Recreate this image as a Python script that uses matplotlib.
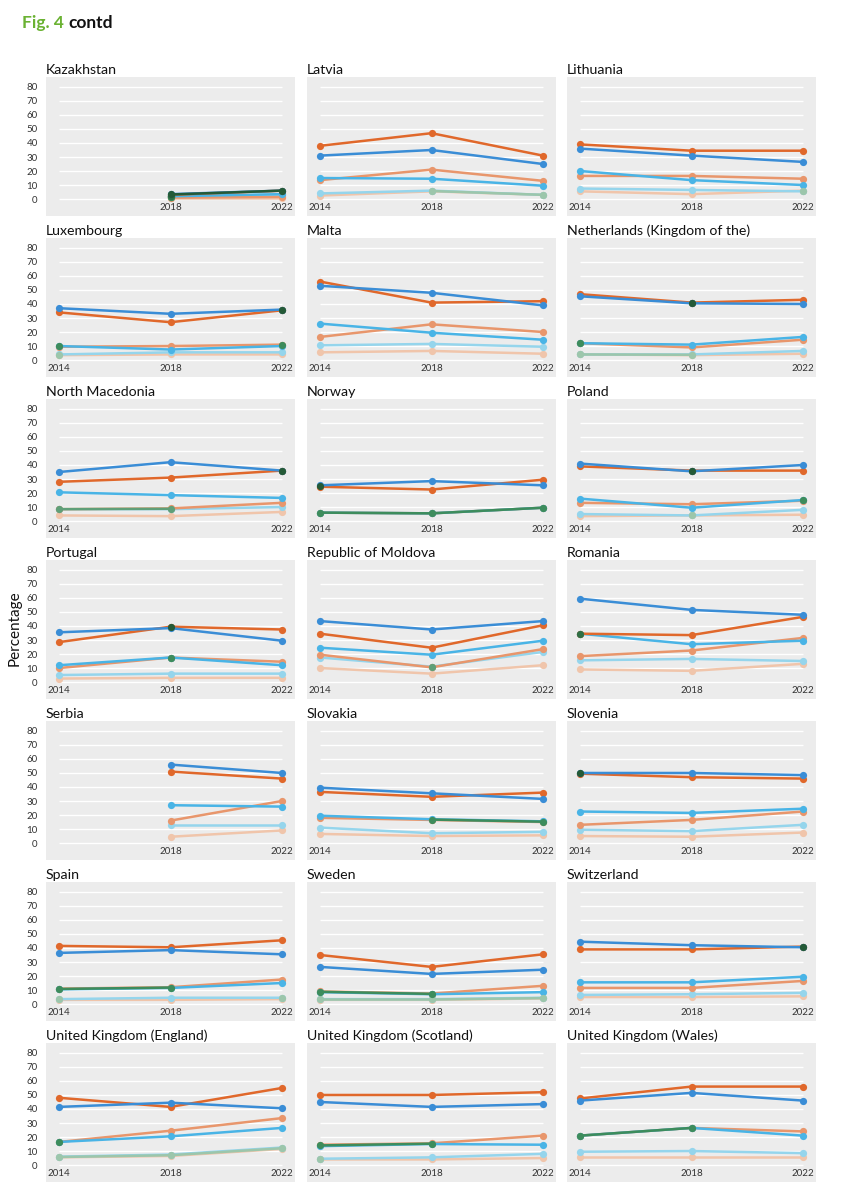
import numpy as np
import matplotlib
matplotlib.use("Agg")
import matplotlib.pyplot as plt

nan = np.nan
years = [2014, 2018, 2022]

countries = [
    "Kazakhstan", "Latvia", "Lithuania",
    "Luxembourg", "Malta", "Netherlands (Kingdom of the)",
    "North Macedonia", "Norway", "Poland",
    "Portugal", "Republic of Moldova", "Romania",
    "Serbia", "Slovakia", "Slovenia",
    "Spain", "Sweden", "Switzerland",
    "United Kingdom (England)", "United Kingdom (Scotland)", "United Kingdom (Wales)",
]

# one dict per series, values for 2014, 2018, 2022
orange_dark = {
    "Kazakhstan": [nan, 3, 6], "Latvia": [38, 47, 31], "Lithuania": [39, 34.5, 34.5],
    "Luxembourg": [34, 27, 35.5], "Malta": [56, 41, 42], "Netherlands (Kingdom of the)": [47, 41, 43],
    "North Macedonia": [28, 31, 36], "Norway": [24.5, 22.5, 29.5], "Poland": [39, 36, 36],
    "Portugal": [28.5, 39.5, 37.5], "Republic of Moldova": [34.5, 24.5, 40.5], "Romania": [34.5, 33.5, 46.5],
    "Serbia": [nan, 51, 46], "Slovakia": [36.5, 33, 36], "Slovenia": [49.5, 47, 46],
    "Spain": [41.5, 40.5, 45.5], "Sweden": [35, 26.5, 35.5], "Switzerland": [39, 39, 41],
    "United Kingdom (England)": [48, 41.5, 55], "United Kingdom (Scotland)": [50, 50, 52],
    "United Kingdom (Wales)": [47.5, 56, 56],
}
blue_dark = {
    "Kazakhstan": [nan, 3.5, 6], "Latvia": [31, 35, 25], "Lithuania": [36, 31, 26.5],
    "Luxembourg": [37, 33, 36], "Malta": [53, 48, 39], "Netherlands (Kingdom of the)": [45.5, 40.5, 40],
    "North Macedonia": [35, 42, 36], "Norway": [25.5, 28.5, 25.5], "Poland": [41, 35.5, 40],
    "Portugal": [35.5, 38.5, 29.5], "Republic of Moldova": [43.5, 37.5, 43.5], "Romania": [59.5, 51.5, 48],
    "Serbia": [nan, 56, 50], "Slovakia": [39.5, 35.5, 31.5], "Slovenia": [50, 50, 48.5],
    "Spain": [36.5, 38.5, 35.5], "Sweden": [26.5, 21.5, 24.5], "Switzerland": [44.5, 42, 40.5],
    "United Kingdom (England)": [41.5, 44.5, 40.5], "United Kingdom (Scotland)": [45, 41.5, 43.5],
    "United Kingdom (Wales)": [46, 51.5, 46],
}
orange_mid = {
    "Kazakhstan": [nan, 1, 1.5], "Latvia": [13.5, 21, 13], "Lithuania": [16.5, 16.5, 14.5],
    "Luxembourg": [9.5, 10, 11], "Malta": [16.5, 25.5, 20], "Netherlands (Kingdom of the)": [12, 9, 14.5],
    "North Macedonia": [8.5, 9, 13], "Norway": [6, 5.5, 9.5], "Poland": [13, 12, 14.5],
    "Portugal": [10, 17.5, 14.5], "Republic of Moldova": [19.5, 10.5, 23.5], "Romania": [18.5, 22.5, 31.5],
    "Serbia": [nan, 16, 30], "Slovakia": [18, 16.5, 15], "Slovenia": [13, 16.5, 22.5],
    "Spain": [11, 12, 17.5], "Sweden": [9, 7.5, 13], "Switzerland": [11.5, 11.5, 16.5],
    "United Kingdom (England)": [16.5, 24.5, 33.5], "United Kingdom (Scotland)": [14.5, 15.5, 21],
    "United Kingdom (Wales)": [21, 26.5, 24],
}
blue_mid = {
    "Kazakhstan": [nan, 2, 3.5], "Latvia": [15, 14.5, 9.5], "Lithuania": [20, 13.5, 10],
    "Luxembourg": [10, 7.5, 10], "Malta": [26, 19.5, 14.5], "Netherlands (Kingdom of the)": [12, 11, 16.5],
    "North Macedonia": [20.5, 18.5, 16.5], "Norway": [6, 5.5, 9.5], "Poland": [16, 9.5, 15],
    "Portugal": [12, 17.5, 12], "Republic of Moldova": [24.5, 19.5, 29.5], "Romania": [34.5, 27, 29.5],
    "Serbia": [nan, 27, 26], "Slovakia": [19.5, 17, 15.5], "Slovenia": [22.5, 21.5, 24.5],
    "Spain": [10.5, 11.5, 15], "Sweden": [8.5, 7, 8.5], "Switzerland": [15.5, 15.5, 19.5],
    "United Kingdom (England)": [16.5, 20.5, 26.5], "United Kingdom (Scotland)": [13.5, 15, 14.5],
    "United Kingdom (Wales)": [21, 26.5, 21],
}
peach = {
    "Kazakhstan": [nan, 1, 1], "Latvia": [2.5, 5.5, 3], "Lithuania": [5.5, 3.5, 6],
    "Luxembourg": [3.5, 4, 4], "Malta": [5.5, 6.5, 4.5], "Netherlands (Kingdom of the)": [4, 3.5, 4.5],
    "North Macedonia": [4, 3.5, 6.5], "Norway": [nan, nan, nan], "Poland": [3.5, 4, 4.5],
    "Portugal": [2.5, 3, 3], "Republic of Moldova": [10, 6, 12], "Romania": [9, 8, 13],
    "Serbia": [nan, 4.5, 9], "Slovakia": [6.5, 5, 5.5], "Slovenia": [5, 4.5, 7.5],
    "Spain": [3, 3, 3.5], "Sweden": [3, 3, 4], "Switzerland": [5, 5, 5.5],
    "United Kingdom (England)": [5.5, 6.5, 11.5], "United Kingdom (Scotland)": [4, 4, 5],
    "United Kingdom (Wales)": [5.5, 5.5, 5.5],
}
cyan_pale = {
    "Kazakhstan": [nan, 2, 3], "Latvia": [4, 6, 3], "Lithuania": [7.5, 6.5, 5.5],
    "Luxembourg": [4, 5.5, 5.5], "Malta": [10.5, 11.5, 9.5], "Netherlands (Kingdom of the)": [4, 4, 6.5],
    "North Macedonia": [8.5, 8.5, 10], "Norway": [nan, nan, nan], "Poland": [5, 4, 8],
    "Portugal": [5, 6, 6], "Republic of Moldova": [17.5, 11, 21.5], "Romania": [15.5, 16.5, 15],
    "Serbia": [nan, 13, 13], "Slovakia": [11, 7, 8], "Slovenia": [9.5, 8.5, 13],
    "Spain": [3.5, 4.5, 4.5], "Sweden": [3.5, 3.5, 4.5], "Switzerland": [6.5, 7, 8],
    "United Kingdom (England)": [6, 7.5, 12.5], "United Kingdom (Scotland)": [4.5, 5.5, 8],
    "United Kingdom (Wales)": [9.5, 10, 8.5],
}

tick_override = {"North Macedonia": [2014, 2022]}

# (data, colour, family, depth) ; family "o" = orange tones, "b" = blue tones
series = [
    (peach, "#f0c5ab", "o", 0),
    (cyan_pale, "#95d5ec", "b", 0),
    (orange_mid, "#e8966c", "o", 1),
    (blue_mid, "#49b4e6", "b", 1),
    (orange_dark, "#e0682b", "o", 2),
    (blue_dark, "#3a8dd6", "b", 2),
]

# the source chart multiplies overlapping orange and blue lines, which shows as green
overlap_colours = {0: "#9cc6ab", 1: "#5f9f78", 2: "#3d8c5c", 3: "#2f6f45", 4: "#245a37"}

plt.rcParams["font.family"] = ["Lato", "DejaVu Sans"]

W, H = 843, 1200
fig = plt.figure(figsize=(W / 100, H / 100), dpi=100)

col_x = [46, 307, 567]
row_y = [77, 238, 399, 560, 721, 882, 1043]
pw, ph = 249, 139

t1 = fig.text(22 / W, 1 - 28 / H, "Fig. 4 ", color="#6ab232", fontsize=12.5, fontweight="bold")
renderer = fig.canvas.get_renderer()
bb = t1.get_window_extent(renderer)
fig.text(bb.x1 / W, 1 - 28 / H, "contd", color="#111111", fontsize=12.5, fontweight="bold")

LW, MS = 1.8, 5.2

for i, name in enumerate(countries):
    r, c = divmod(i, 3)
    ax = fig.add_axes([col_x[c] / W, 1 - (row_y[r] + ph) / H, pw / W, ph / H])
    ax.set_facecolor("#ececec")
    for s in ax.spines.values():
        s.set_visible(False)
    ax.set_xlim(2013.53, 2022.47)
    ax.set_ylim(-12.1, 87.1)
    ax.hlines(np.arange(0, 90, 10), 2014, 2022, color="white", lw=1, zorder=0.5)

    for data, col, fam, dep in series:
        v = np.array(data[name], dtype=float)
        ax.plot(years, v, color=col, lw=LW, marker="o", ms=MS, mec="none",
                solid_capstyle="round", zorder=2)

    # overlay where an orange and a blue series sit on top of each other
    for d1, c1, f1, dep1 in series:
        if f1 != "o":
            continue
        for d2, c2, f2, dep2 in series:
            if f2 != "b":
                continue
            a = np.array(d1[name], dtype=float)
            b = np.array(d2[name], dtype=float)
            oc = overlap_colours[dep1 + dep2]
            close = np.abs(a - b) < 1.4
            for k in range(len(years) - 1):
                if close[k] and close[k + 1]:
                    ax.plot(years[k:k + 2], (a[k:k + 2] + b[k:k + 2]) / 2, color=oc,
                            lw=LW, solid_capstyle="round", zorder=3)
            for k in range(len(years)):
                if close[k]:
                    ax.plot(years[k], (a[k] + b[k]) / 2, "o", color=oc, ms=MS,
                            mec="none", zorder=3)

    present = [y for k, y in enumerate(years)
               if any(np.isfinite(d[name][k]) for d, _, _, _ in series)]
    ticks = tick_override.get(name, present)
    ax.set_xticks(ticks)
    ax.set_xticklabels([str(t) for t in ticks])
    ax.tick_params(axis="x", length=0, pad=-9.5, labelsize=7, colors="#333333")
    ax.set_yticks(np.arange(0, 90, 10))
    if c == 0:
        ax.tick_params(axis="y", length=0, pad=6, labelsize=7, colors="#333333")
    else:
        ax.tick_params(axis="y", length=0, labelleft=False)
    ax.set_title(name, loc="left", fontsize=10.2, pad=2, color="#111111")

fig.text(15 / W, 1 - 628 / H, "Percentage", rotation=90, ha="center", va="center",
         fontsize=11, color="#111111")

fig.savefig("out.png", dpi=100, facecolor="white")
